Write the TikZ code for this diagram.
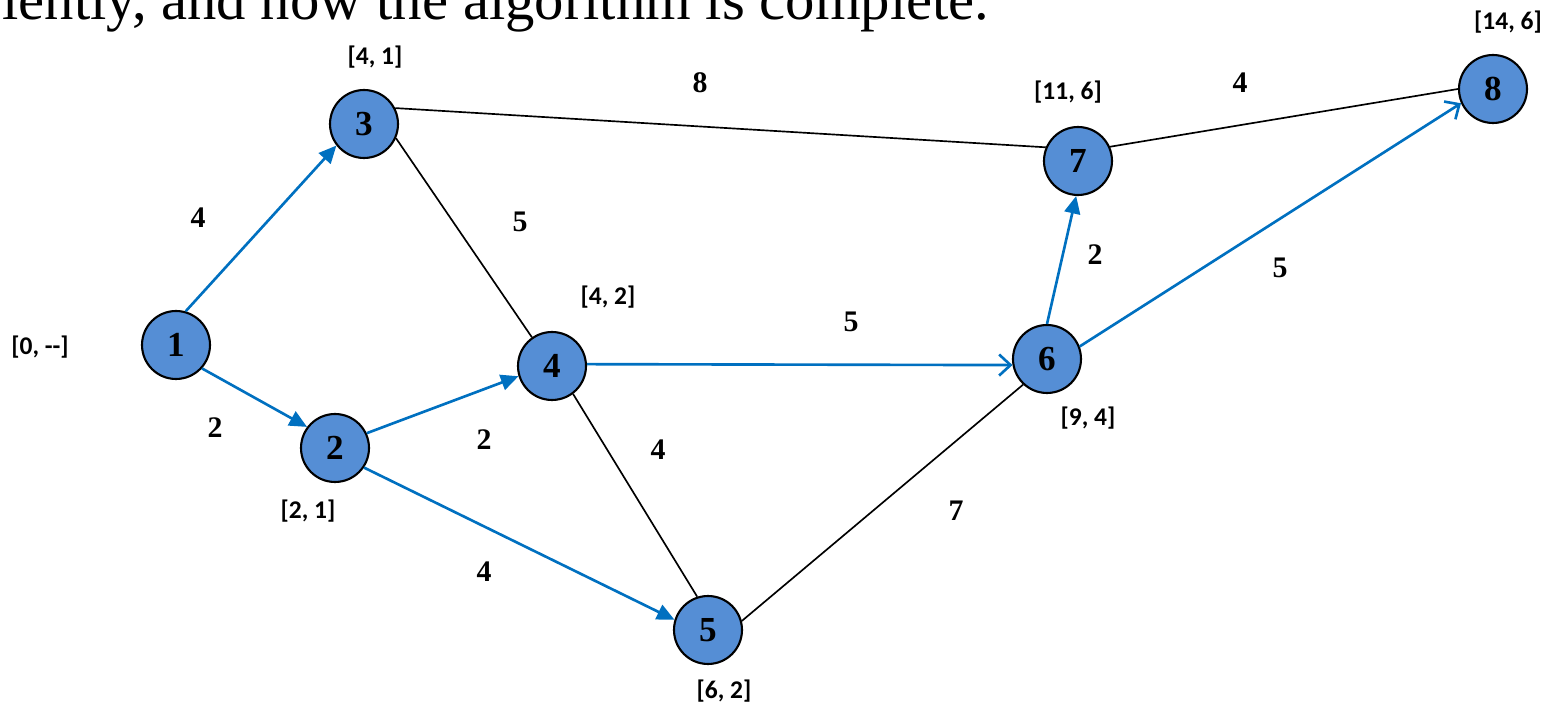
\documentclass[tikz,border=0pt]{standalone}
\usepackage{fontspec}
\setmainfont{Liberation Serif}
\newfontfamily\calibri{Carlito}
\usetikzlibrary{arrows.meta}

\definecolor{vfill}{RGB}{85,142,213}
\definecolor{tblue}{RGB}{0,112,192}

\begin{document}
\begin{tikzpicture}[x=0.02cm,y=-0.02cm,
  vtx/.style={circle,draw=black,line width=1.2pt,fill=vfill,minimum size=1.36cm,inner sep=0pt,font=\fontsize{20}{20}\selectfont\bfseries},
  wgt/.style={font=\fontsize{17}{17}\selectfont\bfseries,inner sep=0pt},
  dist/.style={font=\calibri\fontsize{14.5}{14.5}\selectfont\bfseries,inner sep=0pt},
  tree/.style={draw=tblue,line width=1.5pt},
  fwd/.style={tree,-{Triangle[length=10pt,width=9pt]}},
  opn/.style={tree,-{Straight Barb[length=6.5pt,width=12pt]}},
  plain/.style={draw=black,line width=0.95pt}]
\useasboundingbox (0,0) rectangle (1549,705);
\node[anchor=base west,inner sep=0pt,font=\fontsize{33.4}{33.4}\selectfont] (title) at (2,20) {lently, and now the algorithm is complete.};
% vertices
\node[vtx] (v1) at (176,345) {1};
\node[vtx] (v2) at (335,448) {2};
\node[vtx] (v3) at (364,124) {3};
\node[vtx] (v4) at (552,366) {4};
\node[vtx] (v5) at (708,630) {5};
\node[vtx] (v6) at (1047,359) {6};
\node[vtx] (v7) at (1078,161) {7};
\node[vtx] (v8) at (1493,89) {8};
% distance labels
\node[dist] (lab1) at (40,347) {[0, --]};
\node[dist] (lab2) at (308,511) {[2, 1]};
\node[dist] (lab3) at (375,57) {[4, 1]};
\node[dist] (lab4) at (608,297) {[4, 2]};
\node[dist] (lab5) at (724,691) {[6, 2]};
\node[dist] (lab6) at (1088,418) {[9, 4]};
\node[dist] (lab7) at (1068,92) {[11, 6]};
\node[dist] (lab8) at (1508,22) {[14, 6]};
% edges
\draw[plain] (v3.27) -- (v7.157);
\draw[plain] (v7.24) -- (v8.180);
\draw[plain] (v3.-24) -- (v4.125);
\draw[plain] (v4.-53) -- (v5.108);
\draw[plain] (v5.15) -- (v6.227);
\draw[fwd] (v1.74) -- (v3.218);
\draw[fwd] (v1.-42) -- (v2.143);
\draw[fwd] (v2.25) -- (v4.197);
\draw[fwd] (v2.-34) -- (v5.163);
\draw[opn] (v4.3) -- (v6.190);
\draw[fwd] (v6.90) -- (v7.267);
\draw[opn] (v6.21) -- (v8.204);
% weights
\node[wgt] (w13) at (198,218) {4};
\node[wgt] (w12) at (215,428) {2};
\node[wgt] (w37) at (700,83) {8};
\node[wgt] (w78) at (1240,83) {4};
\node[wgt] (w34) at (520,222) {5};
\node[wgt] (w24) at (484,440) {2};
\node[wgt] (w46) at (851,322) {5};
\node[wgt] (w67) at (1095,255) {2};
\node[wgt] (w68) at (1280,268) {5};
\node[wgt] (w45) at (658,450) {4};
\node[wgt] (w25) at (484,572) {4};
\node[wgt] (w56) at (956,511) {7};
\end{tikzpicture}
\end{document}
